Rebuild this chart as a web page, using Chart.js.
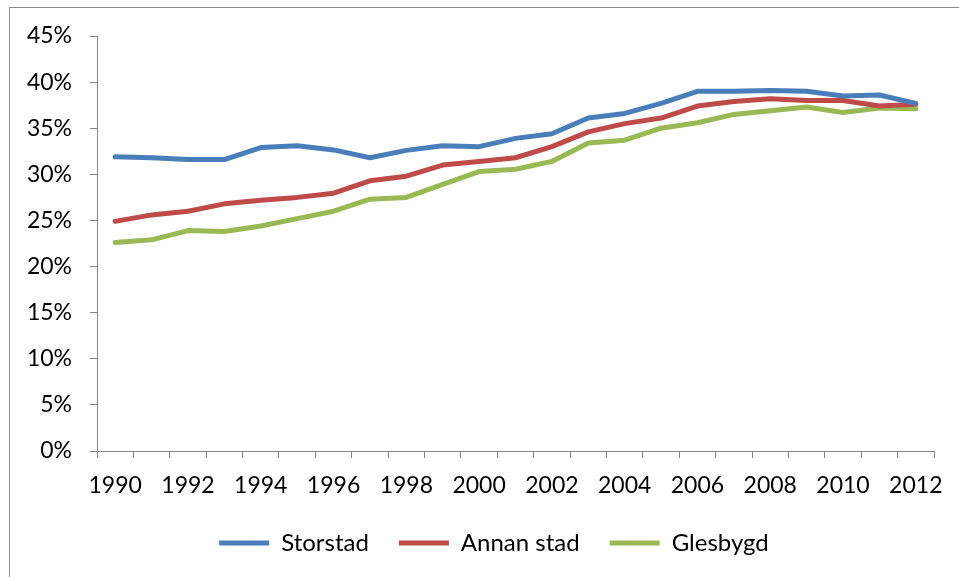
<!DOCTYPE html>
<html>
<head>
<meta charset="utf-8">
<script src="https://cdn.jsdelivr.net/npm/chart.js@4.4.0/dist/chart.umd.min.js"></script>
<style>
  html, body { margin: 0; padding: 0; background: #fff; }
  #wrap { position: relative; width: 959px; height: 577px; overflow: hidden; }
  #frame { position: absolute; left: 9px; top: 7px; width: 1000px; height: 600px; border: 1px solid #8c8c8c; box-sizing: border-box; }
  canvas { position: absolute; left: 0; top: 0; }
</style>
</head>
<body>
<div id="wrap">
  <div id="frame"></div>
  <canvas id="c" width="959" height="577"></canvas>
</div>
<script>
const years = ["1990","1991","1992","1993","1994","1995","1996","1997","1998","1999","2000","2001","2002","2003","2004","2005","2006","2007","2008","2009","2010","2011","2012"];
const storstad = [31.9,31.8,31.6,31.6,32.9,33.1,32.65,31.8,32.6,33.1,33.0,33.9,34.4,36.1,36.6,37.7,39.0,39.0,39.1,39.0,38.5,38.6,37.7];
const annanStad = [24.9,25.6,26.0,26.8,27.2,27.5,27.95,29.3,29.8,31.0,31.4,31.8,33.0,34.6,35.5,36.1,37.4,37.9,38.2,38.0,38.0,37.4,37.6];
const glesbygd = [22.6,22.9,23.9,23.8,24.4,25.2,26.0,27.3,27.5,28.9,30.3,30.55,31.4,33.4,33.7,35.0,35.6,36.5,36.9,37.3,36.7,37.2,37.1];
const seriesNames = ["Storstad","Annan stad","Glesbygd"];
const seriesColors = ["#4a7ebb","#be4b48","#98b954"];
const yTicks = [0,5,10,15,20,25,30,35,40,45];

const FONT = "Lato";
const mk = (name, data, color) => ({
  label: name, data: data, borderColor: color, backgroundColor: color,
  borderWidth: 5, pointRadius: 0, pointHoverRadius: 0, tension: 0,
  borderCapStyle: 'round', borderJoinStyle: 'round', fill: false,
  pointStyle: 'line'
});

const shiftLegend = {
  id: 'shiftLegend',
  afterLayout(chart) {
    const lg = chart.legend;
    if (lg) { lg.left += 27; lg.right += 27; }
  }
};

new Chart(document.getElementById('c'), {
  type: 'line',
  data: {
    labels: years,
    datasets: [
      mk(seriesNames[0], storstad, seriesColors[0]),
      mk(seriesNames[1], annanStad, seriesColors[1]),
      mk(seriesNames[2], glesbygd, seriesColors[2])
    ]
  },
  plugins: [shiftLegend],
  options: {
    responsive: false,
    animation: false,
    devicePixelRatio: 1,
    layout: { padding: { left: 0, top: 36, right: 25, bottom: 12 } },
    plugins: {
      tooltip: { enabled: false },
      legend: {
        position: 'bottom',
        labels: {
          usePointStyle: true,
          pointStyle: 'line',
          pointStyleWidth: 50,
          padding: 30,
          color: '#000',
          font: { family: FONT, size: 24 }
        }
      }
    },
    scales: {
      x: {
        type: 'category',
        offset: true,
        afterFit: (s) => { s.height = 50; },
        grid: { offset: true, drawOnChartArea: false, drawTicks: true, tickLength: 7, color: '#868686', lineWidth: 1 },
        border: { display: true, color: '#868686', width: 1 },
        ticks: {
          autoSkip: false, maxRotation: 0, minRotation: 0, padding: 14,
          color: '#000', font: { family: FONT, size: 23 },
          callback: function(v, i) { const l = years[i]; return (i % 2 === 0) ? l : ''; }
        }
      },
      y: {
        min: 0, max: 45,
        afterFit: (s) => { s.width = 97; },
        afterBuildTicks: (s) => { s.ticks = yTicks.map(v => ({ value: v })); },
        grid: { drawOnChartArea: false, drawTicks: true, tickLength: 7, color: '#868686', lineWidth: 1 },
        border: { display: true, color: '#868686', width: 1 },
        ticks: {
          padding: 18, color: '#000', font: { family: FONT, size: 23 },
          callback: (v) => v + '%'
        }
      }
    }
  }
});
</script>
</body>
</html>
